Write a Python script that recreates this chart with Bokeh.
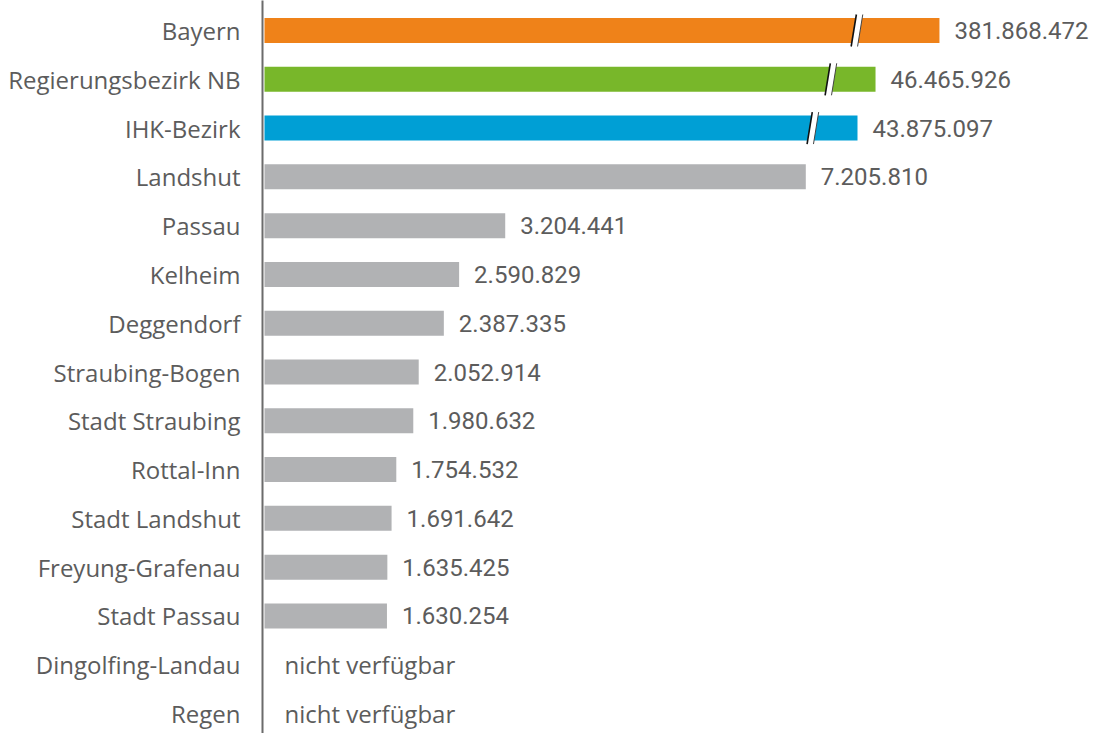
from bokeh.plotting import figure
from bokeh.models import Range1d, FixedTicker
from bokeh.core.properties import value
from bokeh.embed import file_html
from bokeh.resources import INLINE

categories = ["Bayern", "Regierungsbezirk NB", "IHK-Bezirk", "Landshut", "Passau",
              "Kelheim", "Deggendorf", "Straubing-Bogen", "Stadt Straubing",
              "Rottal-Inn", "Stadt Landshut", "Freyung-Grafenau", "Stadt Passau",
              "Dingolfing-Landau", "Regen"]
values = [381868472, 46465926, 43875097, 7205810, 3204441, 2590829, 2387335,
          2052914, 1980632, 1754532, 1691642, 1635425, 1630254, None, None]
# broken-axis: drawn length and break position for the three large bars
broken_length = {"Bayern": 8985000, "Regierungsbezirk NB": 8134000, "IHK-Bezirk": 7894000}
break_at = {"Bayern": 7887000, "Regierungsbezirk NB": 7540000, "IHK-Bezirk": 7300000}
colors = {"Bayern": "#EF8219", "Regierungsbezirk NB": "#78B72A", "IHK-Bezirk": "#009FD5"}
grey = "#B1B2B4"
text_col = "#5C5C5C"
na_label = "nicht verfügbar"

PX = 1 / 75.12e-6   # data units per pixel (x)
TOP_C, BOT_C = 30, 713
ROW = (BOT_C - TOP_C) / 14
PY = 1 / ROW        # data units per pixel (y)

W, H = 1090, 733
LEFT = 262
p = figure(width=W, height=H, output_backend="svg", toolbar_location=None,
           x_range=Range1d(-2 * PX, (W - LEFT - 2) * PX),
           y_range=Range1d(14 + (H - BOT_C) * PY, -TOP_C * PY),
           x_axis_location=None, min_border_left=LEFT, min_border_right=0,
           min_border_top=0, min_border_bottom=0)
p.outline_line_color = None
p.grid.visible = False
p.background_fill_color = "white"

ys = list(range(len(categories)))
bar_x, bar_y, bar_c = [], [], []
lab_x, lab_y, lab_t = [], [], []
na_y = []
for i, (c, v) in enumerate(zip(categories, values)):
    if v is None:
        na_y.append(i)
        continue
    L = broken_length.get(c, v)
    bar_x.append(L)
    bar_y.append(i)
    bar_c.append(colors.get(c, grey))
    lab_x.append(L)
    lab_y.append(i)
    lab_t.append(f"{v:,}".replace(",", "."))

p.hbar(y=bar_y, left=0, right=bar_x, height=25 * PY, fill_color=bar_c, line_color=None)

# break marks
bxs, bys, l1x0, l1x1, l2x0, l2x1, sy0, sy1 = [], [], [], [], [], [], [], []
for c, b in break_at.items():
    i = categories.index(c)
    hw = 3.2 * PX
    sl = 2.6 * PX
    hy = 16 * PY
    bxs.append([b - hw - sl, b + hw - sl, b + hw + sl, b - hw + sl])
    bys.append([i + hy, i + hy, i - hy, i - hy])
    l1x0.append(b - hw - sl); l1x1.append(b - hw + sl)
    l2x0.append(b + hw - sl); l2x1.append(b + hw + sl)
    sy0.append(i + hy); sy1.append(i - hy)
p.patches(xs=bxs, ys=bys, fill_color="white", line_color=None)
p.segment(x0=l1x0, y0=sy0, x1=l1x1, y1=sy1, line_color="#111111", line_width=1.6)
p.segment(x0=l2x0, y0=sy0, x1=l2x1, y1=sy1, line_color="#444444", line_width=1.0)

p.text(x=lab_x, y=lab_y, text=lab_t, x_offset=15, text_baseline="middle",
       text_align="left", text_font=value("Roboto"), text_font_size="24px",
       text_color=text_col)
p.text(x=[0] * len(na_y), y=na_y, text=[na_label] * len(na_y), x_offset=20,
       text_baseline="middle", text_align="left", text_font=value("Open Sans"),
       text_font_size="24px", text_color=text_col)

ax = p.yaxis[0]
ax.ticker = FixedTicker(ticks=ys)
ax.major_label_overrides = {i: c for i, c in enumerate(categories)}
ax.major_label_text_font = "Open Sans"
ax.major_label_text_font_size = "24px"
ax.major_label_text_color = text_col
ax.major_label_standoff = 22
ax.major_tick_out = 0
ax.major_tick_in = 0
ax.major_tick_line_color = None
ax.minor_tick_line_color = None
ax.axis_line_color = "#6B6B6B"
ax.axis_line_width = 2

open("out.html", "w").write(file_html(p, INLINE))
